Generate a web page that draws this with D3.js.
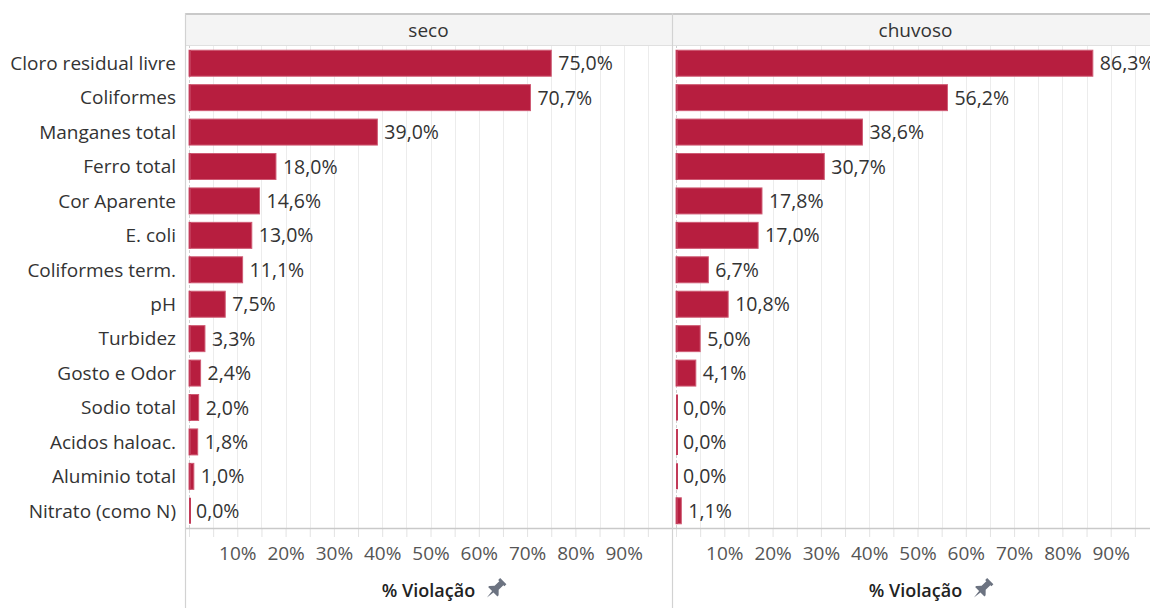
<!DOCTYPE html>
<html>
<head>
<meta charset="utf-8">
<script src="https://cdn.jsdelivr.net/npm/d3@7"></script>
<style>
  html, body { margin: 0; padding: 0; background: #fff; overflow: hidden; }
  svg { display: block; }
  text { font-family: "Open Sans", "Noto Sans", sans-serif; }
</style>
</head>
<body>
<svg id="chart" width="1150" height="608"></svg>
<script>
// Parameters (rows) and violation share per season, in %
const categories = [
  "Cloro residual livre", "Coliformes", "Manganes total", "Ferro total",
  "Cor Aparente", "E. coli", "Coliformes term.", "pH", "Turbidez",
  "Gosto e Odor", "Sodio total", "Acidos haloac.", "Aluminio total",
  "Nitrato (como N)"
];
const seasons = ["seco", "chuvoso"];
const secoValues    = [75.0, 70.7, 39.0, 18.0, 14.6, 13.0, 11.1, 7.5, 3.3, 2.4, 2.0, 1.8, 1.0, 0.0];
const chuvosoValues = [86.3, 56.2, 38.6, 30.7, 17.8, 17.0, 6.7, 10.8, 5.0, 4.1, 0.0, 0.0, 0.0, 1.1];
const gridValues  = [0, 5, 10, 15, 20, 25, 30, 35, 40, 45, 50, 55, 60, 65, 70, 75, 80, 85, 90, 95];
const tickLabels  = ["10%", "20%", "30%", "40%", "50%", "60%", "70%", "80%", "90%"];
const axisTitle = "% Violação";

const seriesBySeason = { seco: secoValues, chuvoso: chuvosoValues };

const svg = d3.select("#chart");

const panelLeft = 185, panelWidth = 487;
const headerTop = 15, headerBottom = 45;
const plotTop = 46, plotBottom = 528;
const barColor = "#b71e3f";
const ink = "#333333";
const fmt = v => d3.format(".1f")(v).replace(".", ",") + "%";

const x = d3.scaleLinear().domain([0, 100]).range([4, 4 + 483]);
const y = d3.scaleBand().domain(categories).range([plotTop, plotBottom])
  .paddingInner(0.245).paddingOuter(0.1225);
const panelX = d3.scaleBand().domain(seasons).range([panelLeft, panelLeft + panelWidth * 2]);

// Row labels
svg.append("g").selectAll("text").data(categories).join("text")
  .attr("x", 176)
  .attr("y", d => y(d) + y.bandwidth() / 2)
  .attr("dy", "0.36em")
  .attr("text-anchor", "end")
  .attr("font-size", 19)
  .attr("fill", ink)
  .text(d => d);

seasons.forEach(season => {
  const values = seriesBySeason[season];
  const g = svg.append("g").attr("transform", `translate(${panelX(season)},0)`);

  // header band
  g.append("rect").attr("x", 0).attr("y", headerTop)
    .attr("width", panelWidth).attr("height", headerBottom - headerTop)
    .attr("fill", "#f4f4f4");
  g.append("text")
    .attr("x", panelWidth / 2).attr("y", 37)
    .attr("text-anchor", "middle").attr("font-size", 19).attr("fill", ink)
    .text(season);

  // gridlines every 5%
  g.append("g").selectAll("line").data(gridValues.filter(v => v > 0)).join("line")
    .attr("x1", d => Math.round(x(d)) + 0.5).attr("x2", d => Math.round(x(d)) + 0.5)
    .attr("y1", headerBottom).attr("y2", plotBottom)
    .attr("stroke", "#ececec").attr("stroke-width", 1);

  // zero reference line
  g.append("line")
    .attr("x1", x(0) + 0.5).attr("x2", x(0) + 0.5)
    .attr("y1", headerBottom).attr("y2", plotBottom)
    .attr("stroke", "#cfcfcf").attr("stroke-dasharray", "3,2");

  // bars
  g.append("g").selectAll("rect").data(categories).join("rect")
    .attr("x", x(0))
    .attr("y", d => y(d))
    .attr("width", (d, i) => x(values[i]) - x(0))
    .attr("height", y.bandwidth())
    .attr("fill", barColor)
    .attr("stroke", "#cf5b74").attr("stroke-width", 1);

  // base edge of each bar (keeps near-zero marks visible)
  g.append("g").selectAll("line").data(categories).join("line")
    .attr("x1", x(0) + 1).attr("x2", x(0) + 1)
    .attr("y1", d => y(d)).attr("y2", d => y(d) + y.bandwidth())
    .attr("stroke", "#c23a58").attr("stroke-width", 2);

  // value labels
  g.append("g").selectAll("text").data(categories).join("text")
    .attr("x", (d, i) => x(values[i]) + 7)
    .attr("y", d => y(d) + y.bandwidth() / 2)
    .attr("dy", "0.36em")
    .attr("font-size", 19.5)
    .attr("fill", ink)
    .text((d, i) => fmt(values[i]));

  // bottom axis
  const axis = d3.axisBottom(x)
    .tickValues(gridValues)
    .tickSize(9)
    .tickFormat(v => (v % 10 === 0 && v > 0) ? tickLabels[v / 10 - 1] : "");
  const ag = g.append("g").attr("transform", `translate(0,${plotBottom})`).call(axis);
  ag.select(".domain").remove();
  ag.selectAll(".tick line").attr("stroke", "#e2e2e2");
  ag.selectAll(".tick text")
    .attr("y", 19).attr("dy", "0.71em")
    .attr("font-size", 19).attr("fill", "#555")
    .attr("font-family", "\"Open Sans\", \"Noto Sans\", sans-serif");

  // axis title with pin glyph
  g.append("text")
    .attr("x", panelWidth / 2).attr("y", 597)
    .attr("text-anchor", "middle").attr("font-size", 18)
    .attr("font-weight", 600).attr("fill", "#222")
    .text(axisTitle);
  g.append("path")
    .attr("transform", `translate(${panelWidth / 2 + 67},589) rotate(45) scale(1.1)`)
    .attr("d", "M-4,-10 L4,-10 L4,-7.5 L2.6,-7.5 L2.6,-1.5 L6,2 L6,3.5 L0.9,3.5 L0,11 L-0.9,3.5 L-6,3.5 L-6,2 L-2.6,-1.5 L-2.6,-7.5 L-4,-7.5 Z")
    .attr("fill", "#6c7381");
});

// frame lines
const frame = svg.append("g").attr("fill", "none");
frame.append("line").attr("x1", panelLeft).attr("x2", 1150).attr("y1", 14).attr("y2", 14)
  .attr("stroke", "#c9c9c9").attr("stroke-width", 2);
frame.append("line").attr("x1", panelLeft).attr("x2", 1150).attr("y1", headerBottom + 0.5).attr("y2", headerBottom + 0.5)
  .attr("stroke", "#e0e0e0");
frame.append("line").attr("x1", panelLeft).attr("x2", 1150).attr("y1", plotBottom + 0.5).attr("y2", plotBottom + 0.5)
  .attr("stroke", "#c9c9c9").attr("stroke-width", 1.5);
[panelLeft, panelLeft + panelWidth].forEach(px => {
  frame.append("line").attr("x1", px + 0.5).attr("x2", px + 0.5).attr("y1", 13).attr("y2", 608)
    .attr("stroke", "#d2d2d2").attr("stroke-width", 1.2);
});
</script>
</body>
</html>
